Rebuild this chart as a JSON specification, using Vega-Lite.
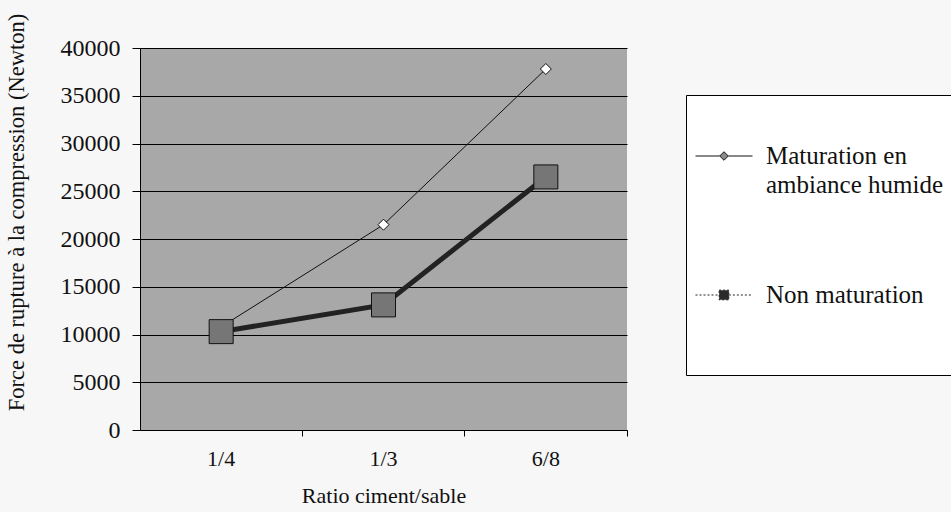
{
  "$schema": "https://vega.github.io/schema/vega-lite/v6.json",
  "width": 487,
  "height": 382,
  "autosize": {"type": "none"},
  "padding": {"left": 140, "top": 48, "right": 324, "bottom": 82},
  "background": "#f7f7f7",
  "config": {
    "view": {"fill": "#a8a8a8", "stroke": null},
    "font": "Liberation Serif"
  },
  "data": {
    "values": [
      {"ratio": "1/4", "serie": "Maturation en ambiance humide", "force": 10800},
      {"ratio": "1/3", "serie": "Maturation en ambiance humide", "force": 21500},
      {"ratio": "6/8", "serie": "Maturation en ambiance humide", "force": 37800},
      {"ratio": "1/4", "serie": "Non maturation", "force": 10300},
      {"ratio": "1/3", "serie": "Non maturation", "force": 13100},
      {"ratio": "6/8", "serie": "Non maturation", "force": 26500}
    ]
  },
  "encoding": {
    "x": {
      "field": "ratio",
      "type": "nominal",
      "sort": ["1/4", "1/3", "6/8"],
      "scale": {"type": "band", "paddingInner": 0, "paddingOuter": 0},
      "axis": {
        "title": "Ratio ciment/sable",
        "titleFont": "Liberation Serif",
        "titleFontSize": 22,
        "titleFontWeight": "normal",
        "titleColor": "#111",
        "titlePadding": 16,
        "labelAngle": 0,
        "labelFont": "Liberation Serif",
        "labelFontSize": 22,
        "labelColor": "#111",
        "labelPadding": 12,
        "bandPosition": 1,
        "labelOffset": 0,
        "domainColor": "#000",
        "domainWidth": 1,
        "tickColor": "#000",
        "tickSize": 6,
        "grid": false
      }
    },
    "y": {
      "field": "force",
      "type": "quantitative",
      "scale": {"domain": [0, 40000], "nice": false},
      "axis": {
        "title": "Force de rupture à la compression (Newton)",
        "titleFont": "Liberation Serif",
        "titleFontSize": 22.5,
        "titleFontWeight": "normal",
        "titleColor": "#111",
        "titleX": -112,
        "titleY": 164,
        "values": [0, 5000, 10000, 15000, 20000, 25000, 30000, 35000, 40000],
        "format": "d",
        "labelFont": "Liberation Serif",
        "labelFontSize": 24,
        "labelColor": "#111",
        "labelPadding": 12,
        "domainColor": "#000",
        "tickColor": "#000",
        "tickSize": 8,
        "grid": true,
        "gridColor": "#000",
        "gridOpacity": 1,
        "gridWidth": 1
      }
    }
  },
  "layer": [
    {
      "mark": {"type": "line"},
      "encoding": {
        "color": {
          "field": "serie",
          "type": "nominal",
          "scale": {"domain": ["Maturation en ambiance humide", "Non maturation"], "range": ["#111111", "#222222"]},
          "legend": {
            "orient": "none",
            "legendX": 546,
            "legendY": 47,
            "title": " ",
            "titleFontSize": 12,
            "titlePadding": 11,
            "padding": 9,
            "strokeColor": "#000",
            "fillColor": "#ffffff",
            "labelFont": "Liberation Serif",
            "labelFontSize": 25,
            "labelColor": "#111",
            "labelOffset": 13,
            "labelLimit": 400,
            "rowPadding": 68,
            "symbolSize": 3249,
            "labelExpr": "datum.value === 'Non maturation' ? ['Non maturation', '', ''] : ['Maturation en', 'ambiance humide']",
            "encode": {
              "symbols": {
                "update": {
                  "shape": {"signal": "datum.value === 'Non maturation' ? 'M-1,0H-0.17M0.17,0H1M-0.17,-0.17H0.17V0.17H-0.17Z' : 'M-1,0H-0.15M0.15,0H1M0,-0.15L0.15,0L0,0.15L-0.15,0Z'"},
                  "fill": {"signal": "datum.value === 'Non maturation' ? '#2a2a2a' : '#8a8a8a'"},
                  "stroke": {"value": "#000"},
                  "strokeWidth": {"value": 1},
                  "strokeDash": {"signal": "datum.value === 'Non maturation' ? [2, 2] : []"},
                  "opacity": {"value": 1}
                }
              },
              "labels": {"update": {"lineHeight": {"value": 29}}}
            }
          }
        },
        "strokeWidth": {
          "condition": {"test": "datum.serie === 'Non maturation'", "value": 5},
          "value": 1
        }
      }
    },
    {
      "mark": {"type": "point", "filled": true, "opacity": 1, "stroke": "#111", "strokeWidth": 1},
      "encoding": {
        "shape": {
          "condition": {"test": "datum.serie === 'Non maturation'", "value": "square"},
          "value": "diamond"
        },
        "size": {
          "condition": {"test": "datum.serie === 'Non maturation'", "value": 576},
          "value": 121
        },
        "fill": {
          "condition": {"test": "datum.serie === 'Non maturation'", "value": "#767676"},
          "value": "#ffffff"
        }
      }
    }
  ]
}
